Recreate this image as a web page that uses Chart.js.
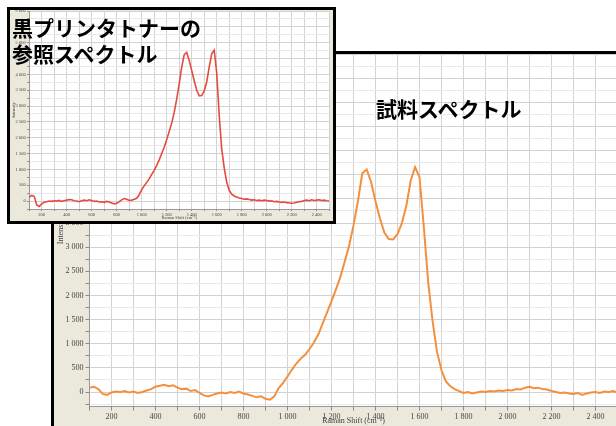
<!DOCTYPE html>
<html>
<head>
<meta charset="utf-8">
<script src="https://cdn.jsdelivr.net/npm/chart.js@4.4.0/dist/chart.umd.min.js"></script>
<style>
  html, body { margin:0; padding:0; }
  body { width:616px; height:426px; overflow:hidden; background:#fff; position:relative; }
  #mainBox { position:absolute; left:51px; top:51px; width:700px; height:400px;
             border-left:3px solid #000; border-top:3px solid #000; z-index:1; }
  #mainWrap { position:absolute; left:54px; top:54px; width:600px; height:372px; z-index:2; }
  #refBox { position:absolute; left:7px; top:7px; width:323px; height:211px;
            border:3px solid #000; background:#ebe8dc; z-index:3; }
  #refWrap { position:absolute; left:10px; top:10px; width:323px; height:211px; z-index:4; }
  .lbl { position:absolute; z-index:5; font-family:"Noto Sans CJK JP", sans-serif;
         font-weight:700; font-size:21px; line-height:26px; color:#000; white-space:nowrap; }
</style>
</head>
<body>
<div id="mainBox"></div>
<div id="mainWrap"><canvas id="mainChart"></canvas></div>
<div id="refBox"></div>
<div id="refWrap"><canvas id="refChart"></canvas></div>
<div class="lbl" style="left:12px; top:14px;">黒プリンタトナーの<br>参照スペクトル</div>
<div class="lbl" style="left:376px; top:95px;">試料スペクトル</div>

<script>
// Raman shift (cm-1)
var shift = [
  100,120,140,160,180,200,220,240,260,280,
  300,320,340,360,380,400,420,440,460,480,
  500,520,540,560,580,600,620,640,660,680,
  700,720,740,760,780,800,820,840,860,880,
  900,920,940,960,980,1000,1020,1040,1060,1080,
  1100,1120,1140,1160,1180,1200,1220,1240,1260,1280,
  1300,1320,1340,1360,1380,1400,1420,1440,1460,1480,
  1500,1520,1540,1560,1580,1600,1620,1640,1660,1680,
  1700,1720,1740,1760,1780,1800,1820,1840,1860,1880,
  1900,1920,1940,1960,1980,2000,2020,2040,2060,2080,
  2100,2120,2140,2160,2180,2200,2220,2240,2260,2280,
  2300,2320,2340,2360,2380,2400,2420,2440,2460,2480,
  2500
];

// 試料スペクトル
var sample = [
  90,110,60,-40,-60,-10,10,0,20,-10,
  10,-20,0,30,60,110,130,150,120,140,
  90,60,70,20,40,-20,-70,-90,-60,-30,
  -10,-30,0,-20,10,-30,-50,-80,-110,-90,
  -140,-160,-90,80,190,320,460,590,690,770,
  890,1025,1190,1420,1650,1880,2120,2380,2700,3030,
  3450,3950,4530,4610,4350,3950,3600,3300,3170,3160,
  3270,3500,3850,4380,4660,4450,3400,2250,1450,820,
  450,220,120,60,20,-20,0,-30,-10,10,
  0,20,10,30,20,40,30,60,50,90,
  110,80,90,60,50,20,0,-20,-10,-30,
  -40,-20,-60,-30,-10,0,-20,10,0,20,
  -10
];

// 黒プリンタトナーの参照スペクトル
var reference = [
  120,180,150,-120,-170,-90,-40,-20,0,-10,
  10,0,20,-10,10,30,50,40,10,0,
  -20,10,30,10,40,20,-10,0,-30,-20,
  -40,-10,-30,-60,-90,-70,-20,40,80,60,
  20,30,60,90,200,360,480,590,700,840,
  970,1130,1300,1500,1700,1940,2200,2460,2800,3220,
  3700,4230,4620,4690,4440,4120,3800,3500,3320,3330,
  3480,3760,4230,4650,4760,4050,2700,1650,1050,600,
  340,220,160,130,100,80,60,70,50,30,
  40,20,30,10,30,20,0,10,-20,-10,
  -30,-40,-30,-50,-60,-70,-60,-40,-20,-10,
  20,30,10,40,20,30,40,20,30,10,
  0
];

var xLabelTicks = [200,400,600,800,1000,1200,1400,1600,1800,2000,2200,2400];
var yLabelStep = 500;
var yGridStep = 250;

function fmt(v) {
  return String(v).replace(/\B(?=(\d{3})+(?!\d))/g, ' ');
}

function toPoints(ys) {
  return shift.map(function(x, i) { return {x: x, y: ys[i]}; });
}

// 軸の外側はベージュ、プロット領域は白
var bgPlugin = {
  id: 'bg',
  beforeDraw: function(chart) {
    var c = chart.ctx, a = chart.chartArea;
    c.save();
    c.fillStyle = '#ebe8dc';
    c.fillRect(0, 0, chart.width, chart.height);
    c.fillStyle = '#ffffff';
    c.fillRect(a.left, a.top, a.right - a.left, a.bottom - a.top);
    c.restore();
  }
};

function makeChart(id, ys, color, o) {
  var ctx = document.getElementById(id).getContext('2d');
  return new Chart(ctx, {
    type: 'line',
    data: {
      datasets: [{
        data: toPoints(ys),
        borderColor: color,
        borderWidth: o.line,
        pointRadius: 0,
        tension: 0,
        fill: false
      }]
    },
    options: {
      responsive: true,
      maintainAspectRatio: false,
      animation: false,
      layout: { padding: { left: 0, right: o.padRight, top: o.padTop, bottom: 0 } },
      plugins: { legend: { display: false }, tooltip: { enabled: false } },
      scales: {
        x: {
          type: 'linear', min: 100, max: 2500,
          afterFit: function(s) { s.height = o.xHeight; s.paddingLeft = 0; s.paddingRight = 0; },
          ticks: {
            stepSize: 100, autoSkip: false, maxRotation: 0, padding: o.tickPad,
            color: '#444', font: { family: 'Liberation Serif', size: o.font },
            callback: function(v) { return xLabelTicks.indexOf(v) >= 0 ? fmt(v) : ''; }
          },
          grid: { color: '#d2d2d2', tickColor: '#888', tickLength: o.tickLen },
          border: { color: '#999' },
          title: { display: true, text: 'Raman Shift (cm⁻¹)', color: '#444',
                   font: { family: 'Liberation Serif', size: o.font }, padding: 0 }
        },
        y: {
          min: o.yMin, max: o.yMax,
          afterFit: function(s) { s.width = o.yWidth; s.paddingTop = 0; s.paddingBottom = 0; },
          afterBuildTicks: function(s) {
            var t = [];
            for (var v = Math.ceil(s.min / yGridStep) * yGridStep; v <= s.max; v += yGridStep) t.push({ value: v });
            s.ticks = t;
          },
          ticks: {
            autoSkip: false, padding: o.tickPad,
            color: '#444', font: { family: 'Liberation Serif', size: o.font },
            callback: function(v) { return v % yLabelStep === 0 ? fmt(v) : ''; }
          },
          grid: {
            color: function(c) { return c.tick && c.tick.value % yLabelStep === 0 ? '#d2d2d2' : '#e8e8e8'; },
            tickColor: '#888', tickLength: o.tickLen
          },
          border: { color: '#999' },
          title: { display: true, text: 'Intensity', color: '#444',
                   font: { family: 'Liberation Serif', size: o.font }, padding: { top: o.titlePad, bottom: 0 } }
        }
      }
    },
    plugins: [bgPlugin]
  });
}

makeChart('mainChart', sample, '#f3903e', {
  line: 2, padRight: 36.5, padTop: 0, xHeight: 19.5, yWidth: 35.5,
  yMin: -300, yMax: 7000, font: 8, tickPad: 2, tickLen: 4, titlePad: 2
});

makeChart('refChart', reference, '#e64a3c', {
  line: 1.6, padRight: 3.8, padTop: 1, xHeight: 12, yWidth: 19.2,
  yMin: -250, yMax: 6000, font: 4.5, tickPad: 1.5, tickLen: 2, titlePad: 1
});
</script>
</body>
</html>
